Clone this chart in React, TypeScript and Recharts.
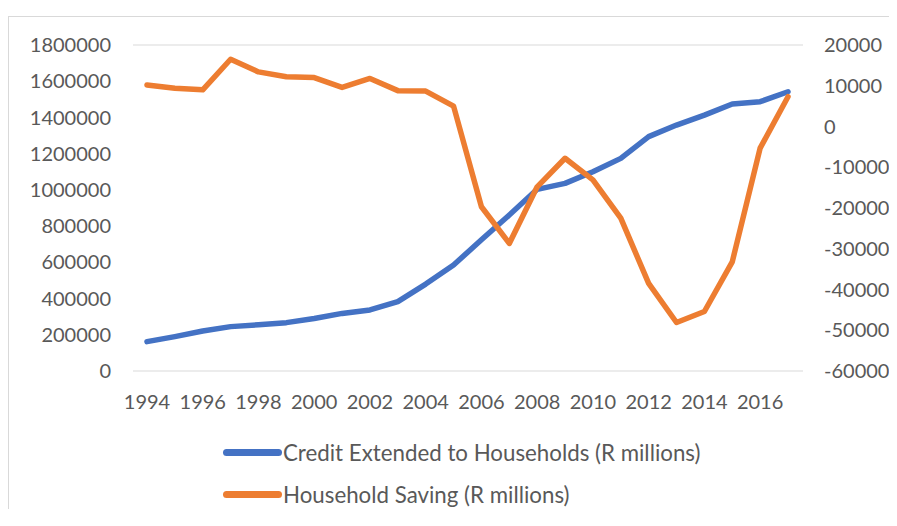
import React from 'react';
import { LineChart, Line, XAxis, YAxis, CartesianGrid, Legend } from 'recharts';

const years = [
  '1994', '1995', '1996', '1997', '1998', '1999', '2000', '2001', '2002', '2003', '2004', '2005',
  '2006', '2007', '2008', '2009', '2010', '2011', '2012', '2013', '2014', '2015', '2016', '2017',
];

// Credit Extended to Households (R millions) - left axis
const credit = [
  162000, 190000, 221000, 245000, 255000, 267000, 290000, 318000, 337000, 383000, 480000, 585000,
  725000, 861000, 1003000, 1036000, 1100000, 1174000, 1294000, 1358000, 1413000, 1474000, 1487000, 1542000,
];

// Household Saving (R millions) - right axis
const saving = [
  10200, 9400, 9000, 16500, 13400, 12200, 12000, 9600, 11800, 8800, 8700, 5000,
  -19700, -28700, -14800, -7800, -13100, -22500, -38500, -48100, -45400, -33200, -5300, 7300,
];

const leftTicks = [0, 200000, 400000, 600000, 800000, 1000000, 1200000, 1400000, 1600000, 1800000];
const rightTicks = [-60000, -50000, -40000, -30000, -20000, -10000, 0, 10000, 20000];

const BLUE = '#4472C4';
const ORANGE = '#ED7D31';
const TEXT = '#595959';
const FONT = 'Lato, "Liberation Sans", sans-serif';

const data = years.map((year, i) => ({ year, credit: credit[i], saving: saving[i] }));

const LegendBox = ({ payload }: any) => (
  <div style={{ fontFamily: FONT, fontSize: 22.3, color: TEXT, whiteSpace: 'nowrap' }}>
    {(payload || []).map((entry: any) => (
      <div key={entry.value} style={{ display: 'flex', alignItems: 'center', height: 42 }}>
        <span
          style={{
            display: 'inline-block',
            width: 59,
            height: 7,
            borderRadius: 4,
            background: entry.color,
            marginRight: 1,
          }}
        />
        <span>{entry.value}</span>
      </div>
    ))}
  </div>
);

export default function App() {
  return (
    <>
      <style>{'html, body { overflow: hidden; }'}</style>
      <div
        style={{
          position: 'relative',
          top: 8,
          width: 888,
          height: 500,
          borderTop: '1px solid #d9d9d9',
          borderLeft: '1px solid #d9d9d9',
          background: '#fff',
        }}
      >
        <LineChart width={888} height={500} data={data} margin={{ top: 28, right: 0, bottom: 116, left: 0 }}>
          <CartesianGrid vertical={false} stroke="#d9d9d9" strokeWidth={1} />
          <XAxis
            dataKey="year"
            interval={1}
            axisLine={false}
            tickLine={false}
            tickSize={0}
            tickMargin={24}
            height={30}
            padding={{ left: 14, right: 15 }}
            tick={{ fill: TEXT, fontSize: 20, fontFamily: FONT }}
          />
          <YAxis
            yAxisId="left"
            width={124}
            domain={[0, 1800000]}
            ticks={leftTicks}
            axisLine={false}
            tickLine={false}
            tickSize={0}
            tickMargin={22}
            tick={{ fill: TEXT, fontSize: 20, fontFamily: FONT }}
          />
          <YAxis
            yAxisId="right"
            orientation="right"
            width={94}
            domain={[-60000, 20000]}
            ticks={rightTicks}
            axisLine={false}
            tickLine={false}
            tickSize={0}
            tickMargin={21}
            tick={{ fill: TEXT, fontSize: 20, fontFamily: FONT, textAnchor: 'start' }}
          />
          <Legend
            layout="vertical"
            verticalAlign="middle"
            align="center"
            content={<LegendBox />}
            wrapperStyle={{ left: 214, top: 414, width: 520 }}
          />
          <Line
            yAxisId="left"
            type="linear"
            dataKey="credit"
            name="Credit Extended to Households (R millions)"
            stroke={BLUE}
            strokeWidth={5.5}
            strokeLinejoin="round"
            strokeLinecap="round"
            dot={false}
            activeDot={false}
            isAnimationActive={false}
          />
          <Line
            yAxisId="right"
            type="linear"
            dataKey="saving"
            name="Household Saving (R millions)"
            stroke={ORANGE}
            strokeWidth={5.5}
            strokeLinejoin="round"
            strokeLinecap="round"
            dot={false}
            activeDot={false}
            isAnimationActive={false}
          />
        </LineChart>
      </div>
    </>
  );
}
